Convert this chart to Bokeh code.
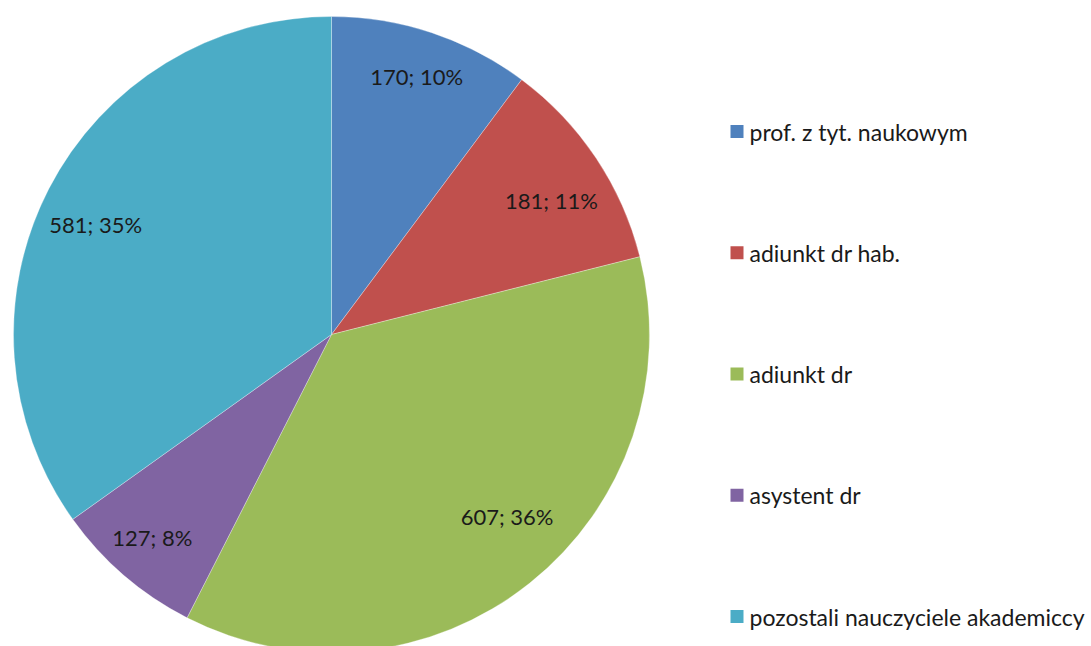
import math
from bokeh.plotting import figure
from bokeh.models import Range1d, ColumnDataSource
from bokeh.core.properties import value
from bokeh.embed import file_html
from bokeh.resources import INLINE

categories = ["prof. z tyt. naukowym", "adiunkt dr hab.", "adiunkt dr",
              "asystent dr", "pozostali nauczyciele akademiccy"]
values = [170, 181, 607, 127, 581]
colors = ["#4F81BD", "#C0504D", "#9BBB59", "#8064A2", "#4BACC6"]

# label nudges (screen px), mimicking Excel "best fit" placement
label_dx = [3, 3, 13, -9, -4]
label_dy = [-11, 11, -22, 5, 9]

W, H = 1091, 646

def py(y):  # image y (top-down) -> data y
    return H - y

total = sum(values)
cx, cy, r = 331, py(334), 318
start, end, lx, ly, labels = [], [], [], [], []
acc = 0.0
for v in values:
    a0 = math.pi / 2 - 2 * math.pi * acc / total
    acc += v
    a1 = math.pi / 2 - 2 * math.pi * acc / total
    start.append(a0)
    end.append(a1)
    mid = (a0 + a1) / 2
    lx.append(cx + 0.82 * r * math.cos(mid))
    ly.append(cy + 0.82 * r * math.sin(mid))
    labels.append(f"{v}; {round(100 * v / total)}%")

src = ColumnDataSource(dict(start=start, end=end, color=colors,
                            lx=lx, ly=ly, label=labels, cat=categories,
                            dx=label_dx, dy=label_dy))

p = figure(width=W, height=H, output_backend="svg", toolbar_location=None,
           x_range=Range1d(0, W), y_range=Range1d(0, H),
           min_border=0, outline_line_color=None)
p.axis.visible = False
p.grid.visible = False
p.background_fill_color = "white"

p.wedge(x=cx, y=cy, radius=r, start_angle="start", end_angle="end",
        direction="clock", fill_color="color", line_color="white",
        line_width=0.6, line_alpha=0.5, source=src)

p.text(x="lx", y="ly", text="label", source=src, text_align="center",
       text_baseline="middle", text_font=value("Lato"),
       text_font_size="22px", text_color="#1a1a1a",
       x_offset="dx", y_offset="dy")

# legend
leg_y = [py(131 + i * 121.25) for i in range(len(categories))]
leg = ColumnDataSource(dict(y=leg_y, cat=categories, color=colors,
                            sx=[736.5] * len(categories), tx=[749] * len(categories)))
p.rect(x="sx", y="y", width=13, height=13, fill_color="color",
       line_color=None, source=leg)
p.text(x="tx", y="y", text="cat", source=leg, text_align="left",
       text_baseline="middle", text_font=value("Lato"),
       text_font_size="23px", text_color="#1a1a1a")

open("out.html", "w").write(file_html(p, INLINE))
